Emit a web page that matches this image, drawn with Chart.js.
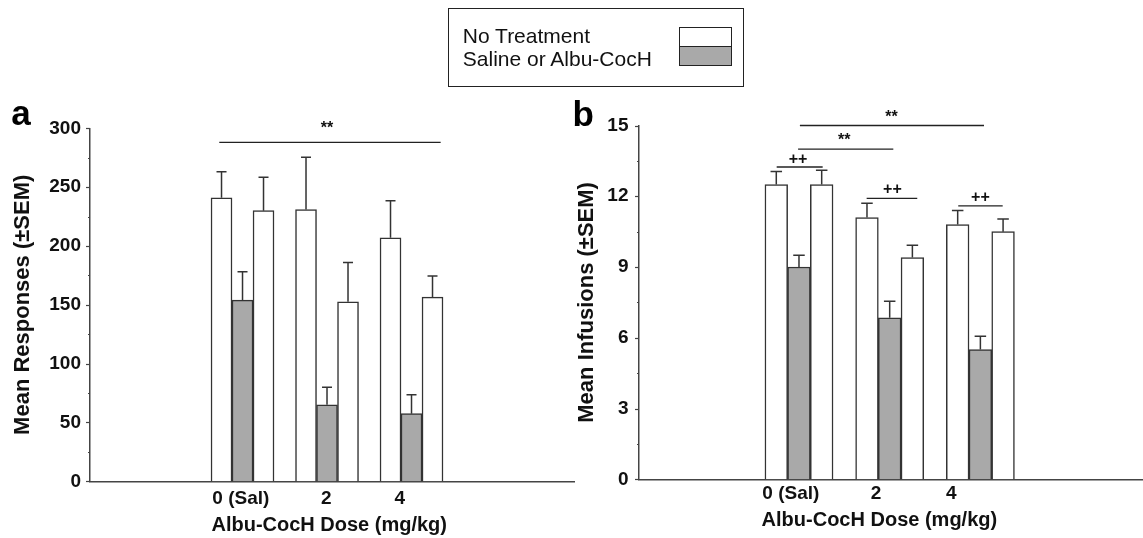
<!DOCTYPE html>
<html>
<head>
<meta charset="utf-8">
<script src="https://cdn.jsdelivr.net/npm/chart.js@4.4.1/dist/chart.umd.min.js"></script>
<style>
  html, body { margin: 0; padding: 0; background: #fff; }
  body { width: 1143px; height: 538px; position: relative; overflow: hidden;
         font-family: "Liberation Sans", Arial, Helvetica, sans-serif; }
  #cA { position: absolute; left: 0; top: 0; }
  #cB { position: absolute; left: 560px; top: 0; }
  #legend { position: absolute; left: 447.7px; top: 8.3px; width: 296.6px; height: 78.4px;
            border: 1.5px solid #222; box-sizing: border-box; }
  #legend .txt { position: absolute; left: 14.1px; top: 15.6px; font-size: 21px; line-height: 22.7px;
                 color: #111; white-space: nowrap; }
  #legend .sw { position: absolute; left: 230px; top: 18px; width: 53px; height: 39px;
                border: 1.5px solid #222; box-sizing: border-box; }
  #legend .sw .lo { position: absolute; left: 0; right: 0; bottom: 0; height: 18px;
                    background: #a9a9a9; border-top: 1.5px solid #222; }
</style>
</head>
<body>
<canvas id="cA" width="580" height="538"></canvas>
<canvas id="cB" width="583" height="538"></canvas>
<div id="legend">
  <div class="txt">No Treatment<br>Saline or Albu-CocH</div>
  <div class="sw"><div class="lo"></div></div>
</div>
<script>
// ---------- data ----------
const categories = ['0 (Sal)', '2', '4'];
const groupPos = [1, 2, 3];
const xTickPosA = [0.98, 1.99, 2.86];
const xTickPosB = [0.91, 1.85, 2.68];

// Panel a: Mean Responses
const respNoTxPre  = [241, 231, 207];
const respTreat    = [154, 65, 57.5];
const respNoTxPost = [230, 152.5, 156.5];
const respSemPre   = [22, 44.5, 31.5];
const respSemTreat = [24, 15, 16];
const respSemPost  = [28.5, 33.5, 18];
const yTicksA = [0, 50, 100, 150, 200, 250, 300];

// Panel b: Mean Infusions
const infNoTxPre  = [12.5, 11.1, 10.8];
const infTreat    = [9.0, 6.85, 5.5];
const infNoTxPost = [12.5, 9.4, 10.5];
const infSemPre   = [0.55, 0.6, 0.6];
const infSemTreat = [0.5, 0.7, 0.57];
const infSemPost  = [0.6, 0.52, 0.54];
const yTicksB = [0, 3, 6, 9, 12, 15];

// significance brackets (data units)
const sigA = [
  { from: 0.725, to: 3.345, y: 288, label: '**', textX: 2.0, textY: 303.6 }
];
const sigB = [
  { from: 1.01, to: 3.04, y: 15.0, label: '**', textX: 2.02, textY: 15.54 },
  { from: 0.99, to: 2.04, y: 14.0, label: '**', textX: 1.5, textY: 14.58 },
  { from: 0.754, to: 1.261, y: 13.24, label: '++', textX: 0.99, textY: 13.61 },
  { from: 1.746, to: 2.304, y: 11.91, label: '++', textX: 2.03, textY: 12.35 },
  { from: 2.756, to: 3.246, y: 11.59, label: '++', textX: 3.0, textY: 11.98 }
];

// ---------- chart ----------
const FONT = '"Liberation Sans", Arial, Helvetica, sans-serif';
Chart.defaults.font.family = FONT;
Chart.defaults.color = '#111';

function withMinors(majors) {
  const out = [];
  for (let i = 0; i < majors.length; i++) {
    out.push(majors[i]);
    if (i < majors.length - 1) out.push((majors[i] + majors[i + 1]) / 2);
  }
  return out;
}

function overlayPlugin(p) {
  return {
    id: 'overlay' + p.id,
    afterDatasetsDraw(chart) {
      const ctx = chart.ctx, ys = chart.scales.y;
      ctx.save();
      ctx.strokeStyle = '#333';
      ctx.lineWidth = 1.5;
      chart.data.datasets.forEach((d, di) => {
        const meta = chart.getDatasetMeta(di);
        meta.data.forEach((el, i) => {
          const top = ys.getPixelForValue(d.data[i].y + d.errors[i]);
          ctx.beginPath();
          ctx.moveTo(el.x, el.y);
          ctx.lineTo(el.x, top);
          ctx.moveTo(el.x - p.cap / 2, top);
          ctx.lineTo(el.x + p.cap / 2, top);
          ctx.stroke();
        });
      });
      ctx.restore();
    },
    afterDraw(chart) {
      const ctx = chart.ctx, ys = chart.scales.y, xs = chart.scales.x;
      const ax = chart.chartArea.left;
      ctx.save();
      // y tick marks (major long, minor short)
      ctx.strokeStyle = '#444';
      ctx.lineWidth = 1.2;
      ys.ticks.forEach(t => {
        const y = Math.round(ys.getPixelForValue(t.value)) + 0.5;
        const len = p.yTicks.includes(t.value) ? 4 : 2;
        ctx.beginPath();
        ctx.moveTo(ax - len, y);
        ctx.lineTo(ax, y);
        ctx.stroke();
      });
      // significance brackets
      ctx.strokeStyle = '#222';
      ctx.lineWidth = 1.3;
      ctx.fillStyle = '#111';
      ctx.font = 'bold 16px ' + FONT;
      ctx.textAlign = 'center';
      ctx.textBaseline = 'alphabetic';
      p.sig.forEach(s => {
        const y = ys.getPixelForValue(s.y);
        ctx.beginPath();
        ctx.moveTo(xs.getPixelForValue(s.from), y);
        ctx.lineTo(xs.getPixelForValue(s.to), y);
        ctx.stroke();
        const off = s.label.indexOf('*') >= 0 ? 0.58 : 0.35;
        ctx.fillText(s.label, xs.getPixelForValue(s.textX), ys.getPixelForValue(s.textY) + off * 16);
      });
      // panel letter
      ctx.font = 'bold 35px ' + FONT;
      ctx.textAlign = 'left';
      ctx.fillStyle = '#000';
      ctx.fillText(p.letter, p.letterX, p.letterY);
      ctx.restore();
    }
  };
}

function buildChart(canvasId, p) {
  const ds = (label, vals, sems, fill) => ({
    label: label,
    data: groupPos.map((g, i) => ({ x: g, y: vals[i] })),
    errors: sems,
    backgroundColor: fill,
    borderColor: '#333',
    borderWidth: 1.5
  });
  return new Chart(document.getElementById(canvasId), {
    type: 'bar',
    data: {
      datasets: [
        ds('No Treatment', p.pre, p.semPre, '#ffffff'),
        ds('Saline or Albu-CocH', p.treat, p.semTreat, '#a9a9a9'),
        ds('No Treatment', p.post, p.semPost, '#ffffff')
      ]
    },
    options: {
      responsive: false,
      animation: false,
      devicePixelRatio: 1,
      layout: { padding: { left: 0, right: p.padRight, top: p.top, bottom: 0 } },
      datasets: { bar: { barThickness: p.barW } },
      plugins: { legend: { display: false }, tooltip: { enabled: false } },
      scales: {
        x: {
          type: 'linear', min: p.xMin, max: p.xMax, offset: false,
          grid: { display: false, drawTicks: false },
          border: { display: true, color: '#444', width: 1.5 },
          afterBuildTicks: s => { s.ticks = p.xTicks.map(v => ({ value: v })); },
          afterFit: s => { s.height = p.xAxisH; },
          ticks: {
            autoSkip: false, maxRotation: 0, minRotation: 0, padding: p.xPad,
            color: '#111', font: { size: 19, weight: 'bold' },
            callback: (v, i) => categories[i]
          },
          title: {
            display: true, text: p.xTitle, color: '#111',
            font: { size: 20, weight: 'bold' }, padding: { top: 0, bottom: p.xTitlePad }
          }
        },
        y: {
          type: 'linear', min: 0, max: p.yMax,
          grid: { display: false, drawTicks: false },
          border: { display: true, color: '#444', width: 1.5 },
          afterBuildTicks: s => { s.ticks = withMinors(p.yTicks).map(v => ({ value: v })); },
          afterFit: s => { s.width = p.yAxisW; },
          ticks: {
            padding: p.yPad, color: '#111', font: { size: 19, weight: 'bold' },
            callback: v => (p.yTicks.includes(v) ? String(v) : '')
          },
          title: {
            display: true, text: p.yTitle, color: '#111',
            font: { size: 22, weight: 'bold' }, padding: { top: p.yTitlePad, bottom: 0 }
          }
        }
      }
    },
    plugins: [overlayPlugin(p)]
  });
}

buildChart('cA', {
  id: 'A', pre: respNoTxPre, treat: respTreat, post: respNoTxPost,
  semPre: respSemPre, semTreat: respSemTreat, semPost: respSemPost,
  yTicks: yTicksA, yMax: 300, sig: sigA, xTicks: xTickPosA,
  top: 128.3, padRight: 6, yAxisW: 90, xAxisH: 56.7,
  xMin: -0.805, xMax: 4.923, barW: 21, xPad: 5.6, xTitlePad: 1,
  yPad: 9, yTitlePad: 9.3, cap: 10,
  xTitle: 'Albu-CocH Dose (mg/kg) ', yTitle: 'Mean Responses (±SEM)',
  letter: 'a', letterX: 11.3, letterY: 124.5
});

buildChart('cB', {
  id: 'B', pre: infNoTxPre, treat: infTreat, post: infNoTxPost,
  semPre: infSemPre, semTreat: infSemTreat, semPost: infSemPost,
  yTicks: yTicksB, yMax: 15, sig: sigB, xTicks: xTickPosB,
  top: 125.5, padRight: 1, yAxisW: 79, xAxisH: 58.7,
  xMin: -0.764, xMax: 4.782, barW: 22.7, xPad: 3, xTitlePad: 6,
  yPad: 10.5, yTitlePad: 14.2, cap: 11.5,
  xTitle: 'Albu-CocH Dose (mg/kg)    ', yTitle: 'Mean Infusions (±SEM)',
  letter: 'b', letterX: 12.5, letterY: 126
});
</script>
</body>
</html>
